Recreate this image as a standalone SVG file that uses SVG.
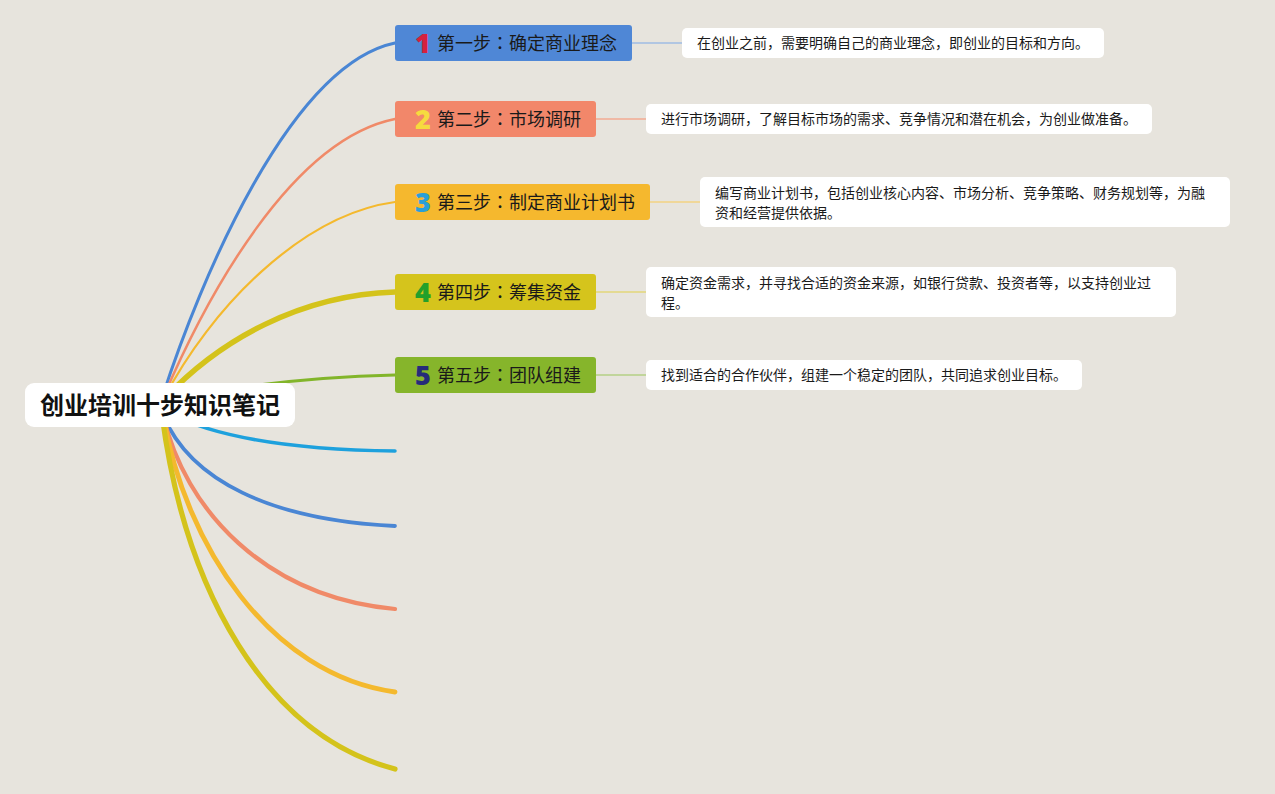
<svg xmlns="http://www.w3.org/2000/svg" width="1275" height="794" viewBox="0 0 1275 794">
<style>
.bg{fill:#e7e4dd}
.br{fill:none;stroke-linecap:round}
.lk{fill:none;stroke-width:1.5}
.lbl{font-family:"Noto Sans CJK SC","Noto Sans",sans-serif;font-size:18px;fill:#1a1a1a}
.col{font-family:"Noto Sans CJK TC","Noto Sans",sans-serif}
.num{font-family:"Noto Sans","DejaVu Sans",sans-serif;font-size:27px;font-weight:900;text-anchor:middle}
.desc{fill:#ffffff}
.dt{font-family:"Noto Sans CJK SC","Noto Sans",sans-serif;font-size:14px;fill:#1a1a1a}
.root{font-family:"Noto Sans CJK SC","Noto Sans",sans-serif;font-size:24px;font-weight:700;fill:#111;text-anchor:middle}
</style>
<rect class="bg" x="0" y="0" width="1275" height="794"/>
<g id="connectors">
  <path class="br" d="M162,398 C200,280 290,65 395,43" stroke="#4a86d4" stroke-width="3"/>
  <path class="br" d="M163,398 C205,300 290,140 395,119" stroke="#f08a68" stroke-width="2.5"/>
  <path class="br" d="M164,398 C210,310 300,215 395,202" stroke="#f4b92e" stroke-width="2.2"/>
  <path class="br" d="M165,398 C220,340 300,295 395,292" stroke="#d4c31b" stroke-width="5.5"/>
  <path class="br" d="M166,400 C240,385 310,377 395,375" stroke="#82b52a" stroke-width="3"/>
  <path class="br" d="M166,412 C220,440 300,450 395,451" stroke="#1ea1dd" stroke-width="3.5"/>
  <path class="br" d="M163,415 C190,480 270,520 395,526" stroke="#4a86d4" stroke-width="3.8"/>
  <path class="br" d="M163,415 C185,510 265,597 395,609" stroke="#f08a68" stroke-width="4.2"/>
  <path class="br" d="M163,415 C185,545 270,675 395,692" stroke="#f4b92e" stroke-width="4.8"/>
  <path class="br" d="M162,415 C185,590 265,735 395,769" stroke="#d4c31b" stroke-width="5.2"/>
  <line class="lk" x1="632" y1="43" x2="682" y2="43" stroke="#9fbce3"/>
  <line class="lk" x1="596" y1="119" x2="646" y2="119" stroke="#f3ab92"/>
  <line class="lk" x1="650" y1="202" x2="700" y2="202" stroke="#f3d382"/>
  <line class="lk" x1="596" y1="292" x2="646" y2="292" stroke="#e3d778"/>
  <line class="lk" x1="596" y1="375" x2="646" y2="375" stroke="#b4d184"/>
</g>
<g id="root">
  <rect x="25" y="383" width="270" height="44" rx="9" fill="#ffffff"/>
  <text class="root" x="160" y="414">创业培训十步知识笔记</text>
</g>
<g id="step1">
  <rect x="395" y="25" width="237" height="36" rx="3" fill="#4f87d6"/>
  <text class="num" x="423" y="53" fill="#d6213d">1</text>
  <text class="lbl" x="437" y="49.5">第一步<tspan class="col">：</tspan>确定商业理念</text>
</g>
<g id="step2">
  <rect x="395" y="101" width="201" height="36" rx="3" fill="#f2876a"/>
  <text class="num" x="423" y="129" fill="#f6da3f">2</text>
  <text class="lbl" x="437" y="125.5">第二步<tspan class="col">：</tspan>市场调研</text>
</g>
<g id="step3">
  <rect x="395" y="184" width="255" height="36" rx="3" fill="#f5b82e"/>
  <text class="num" x="423" y="212" fill="#2a9fd8">3</text>
  <text class="lbl" x="437" y="208.5">第三步<tspan class="col">：</tspan>制定商业计划书</text>
</g>
<g id="step4">
  <rect x="395" y="274" width="201" height="36" rx="3" fill="#d5c41c"/>
  <text class="num" x="423" y="302" fill="#23a02a">4</text>
  <text class="lbl" x="437" y="298.5">第四步<tspan class="col">：</tspan>筹集资金</text>
</g>
<g id="step5">
  <rect x="395" y="357" width="201" height="36" rx="3" fill="#86b52b"/>
  <text class="num" x="423" y="385" fill="#262b7a">5</text>
  <text class="lbl" x="437" y="381.5">第五步<tspan class="col">：</tspan>团队组建</text>
</g>
<g id="desc1">
  <rect class="desc" x="682" y="28" width="422" height="30" rx="5"/>
  <text class="dt" x="697" y="48">在创业之前，需要明确自己的商业理念，即创业的目标和方向。</text>
</g>
<g id="desc2">
  <rect class="desc" x="646" y="104" width="506" height="30" rx="5"/>
  <text class="dt" x="661" y="124">进行市场调研，了解目标市场的需求、竞争情况和潜在机会，为创业做准备。</text>
</g>
<g id="desc3">
  <rect class="desc" x="700" y="177" width="530" height="50" rx="5"/>
  <text class="dt" x="715" y="198">编写商业计划书，包括创业核心内容、市场分析、竞争策略、财务规划等，为融</text>
  <text class="dt" x="715" y="218">资和经营提供依据。</text>
</g>
<g id="desc4">
  <rect class="desc" x="646" y="267" width="530" height="50" rx="5"/>
  <text class="dt" x="661" y="288">确定资金需求，并寻找合适的资金来源，如银行贷款、投资者等，以支持创业过</text>
  <text class="dt" x="661" y="308">程。</text>
</g>
<g id="desc5">
  <rect class="desc" x="646" y="360" width="436" height="30" rx="5"/>
  <text class="dt" x="661" y="380">找到适合的合作伙伴，组建一个稳定的团队，共同追求创业目标。</text>
</g>
</svg>
